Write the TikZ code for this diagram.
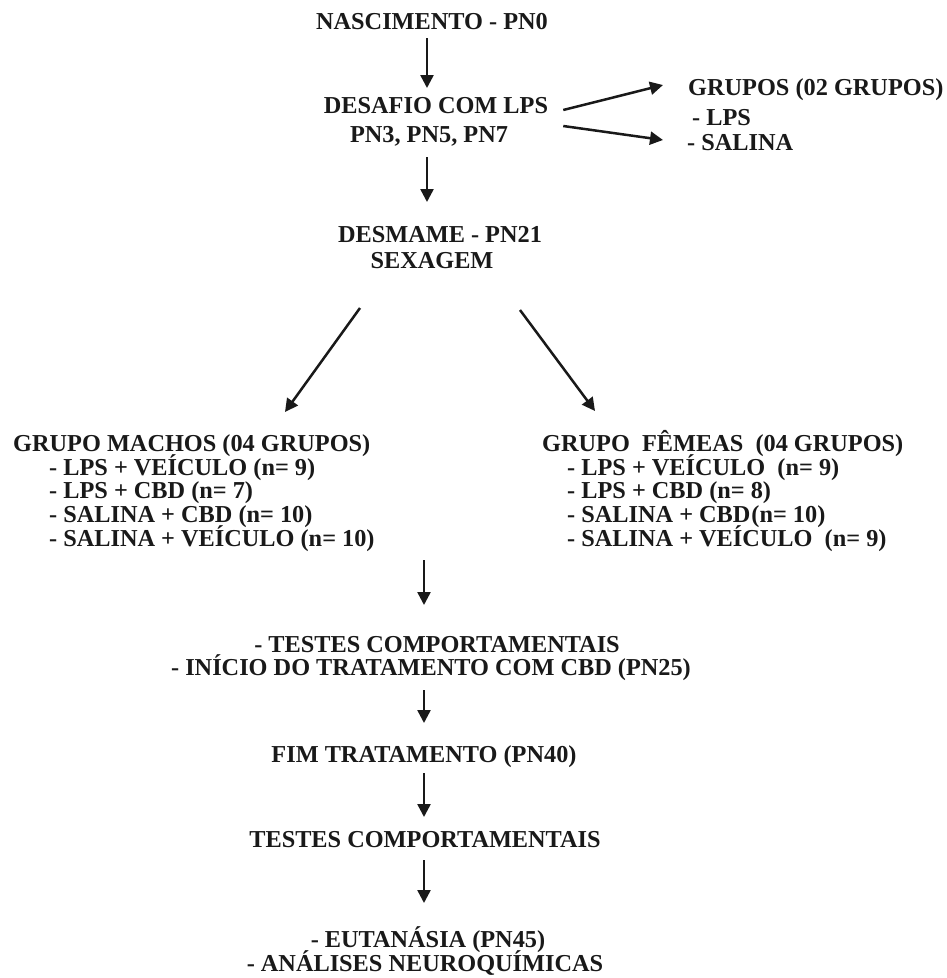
\documentclass[tikz,border=0pt]{standalone}
\usepackage{fontspec}
\setmainfont{Liberation Serif}
\usetikzlibrary{arrows.meta,calc}
\begin{document}
\begin{tikzpicture}[x=1pt,y=-1pt,
  t/.style={font=\bfseries\fontsize{24.3}{24}\selectfont, inner sep=0pt, anchor=base, text=black!90},
  tw/.style={t, anchor=base west},
  arr/.style={line width=2.5pt, draw=black!90, -{Triangle[length=13pt,width=13pt]}}]
\useasboundingbox[fill=white] (0,0) rectangle (947,978);
\coordinate (axT) at (427,0);
\coordinate (axB) at (424,0);
% top part
\node[t] (nasc) at (432,29) {NASCIMENTO - PN0};
\node[t] (desafioA) at (436,113) {DESAFIO COM LPS};
\node[t] (desafioB) at (429,142) {PN3, PN5, PN7};
\node[tw] (gruposT) at (688,95) {GRUPOS (02 GRUPOS)};
\node[tw] (lps) at (692,125) {- LPS};
\node[tw] (salina) at (687,150) {- SALINA};
\node[t] (desmameA) at (440,242) {DESMAME - PN21};
\node[t] (desmameB) at (432,268) {SEXAGEM};
% groups
\node[tw] (machosT) at (13,451) {GRUPO MACHOS (04 GRUPOS)};
\node[tw] (m1) at (49,475) {- LPS + VEÍCULO (n= 9)};
\node[tw] (m2) at (49,498) {- LPS + CBD (n= 7)};
\node[tw] (m3) at (49,522) {- SALINA + CBD (n= 10)};
\node[tw] (m4) at (49,546) {- SALINA + VEÍCULO (n= 10)};
\node[tw] (femeasT) at (542,451) {GRUPO\ \ FÊMEAS\ \ (04 GRUPOS)};
\node[tw] (f1) at (567,475) {- LPS + VEÍCULO\ \ (n= 9)};
\node[tw] (f2) at (567,498) {- LPS + CBD (n= 8)};
\node[tw] (f3) at (567,522) {- SALINA + CBD\hspace{1pt}(n= 10)};
\node[tw] (f4) at (567,546) {- SALINA + VEÍCULO\ \ (n= 9)};
% bottom part
\coordinate (split) at (424,560);
\node[t] (testesA) at (437,652) {- TESTES COMPORTAMENTAIS};
\node[t] (testesB) at (431,675) {- INÍCIO DO TRATAMENTO COM CBD (PN25)};
\node[t] (fim) at (424,762) {FIM TRATAMENTO (PN40)};
\node[t] (testes2) at (425,847) {TESTES COMPORTAMENTAIS};
\node[t] (eut) at (428,947) {- EUTANÁSIA (PN45)};
\node[t] (anal) at (425,971) {- ANÁLISES NEUROQUÍMICAS};
% arrows
\draw[arr] ($(nasc.base -| axT)+(0,9)$) -- ($(desafioA.base -| axT)+(0,-25)$);
\draw[arr] ($(desafioB.base -| axT)+(0,15)$) -- ($(desmameA.base -| axT)+(0,-40)$);
\draw[arr] ($(desafioA.base east)+(15,-3)$) -- ($(gruposT.base west)+(-25,-10)$);
\draw[arr] ($(desafioA.base east)+(15,13)$) -- ($(salina.base west)+(-24,-10)$);
\draw[arr] ($(desmameB.base)+(-72,40)$) -- ($(machosT.base west)+(272,-39)$);
\draw[arr] ($(desmameB.base)+(88,42)$) -- ($(femeasT.base west)+(53,-40)$);
\draw[arr] (split) -- ($(testesA.base -| axB)+(0,-47)$);
\draw[arr] ($(testesB.base -| axB)+(0,15)$) -- ($(fim.base -| axB)+(0,-39)$);
\draw[arr] ($(fim.base -| axB)+(0,11)$) -- ($(testes2.base -| axB)+(0,-30)$);
\draw[arr] ($(testes2.base -| axB)+(0,13)$) -- ($(eut.base -| axB)+(0,-44)$);
\end{tikzpicture}
\end{document}
